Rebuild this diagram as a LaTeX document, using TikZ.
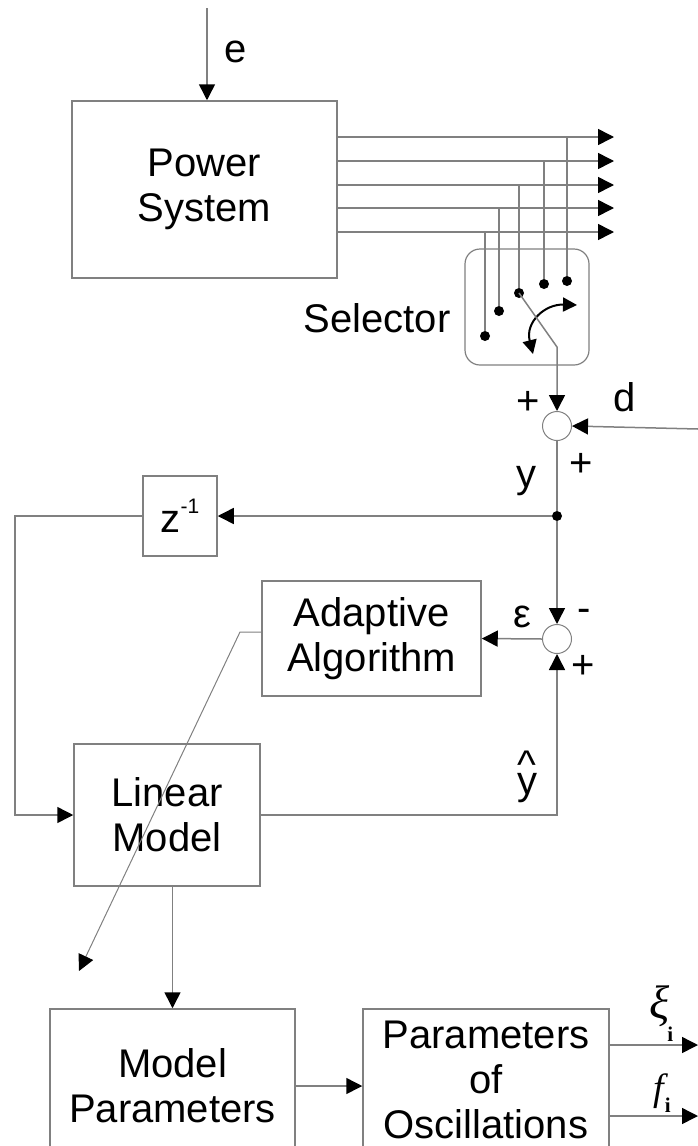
\RequirePackage{fix-cm}
\documentclass[tikz,border=0pt]{standalone}
\usepackage{fontspec}
\setmainfont{Liberation Sans}
\newfontfamily\timesfont{Liberation Serif}
\usetikzlibrary{arrows.meta,calc}
\definecolor{wiregray}{gray}{0.5}
\tikzset{
  wire/.style={draw=wiregray, line width=1.5pt},
  flow/.style={wire, -{Triangle[length=16pt,width=16pt,color=black]}},
  block/.style={draw=wiregray, line width=1.5pt, align=center, inner sep=0pt,
    font=\fontsize{40}{45}\selectfont},
  lbl/.style={inner sep=0pt, font=\fontsize{40}{45}\selectfont},
  sumnode/.style={circle, draw=wiregray, line width=1pt, fill=white,
    minimum size=29pt, inner sep=0pt},
  tapdot/.style={circle, fill=black, minimum size=10pt, inner sep=0pt},
  swarc/.style={draw=black, line width=2pt,
    {Triangle[length=14pt,width=14pt]}-{Triangle[length=14pt,width=14pt]}},
}
\begin{document}
\begin{tikzpicture}[x=1pt,y=-1pt]
\useasboundingbox (0,0) rectangle (698,1146);
\clip (0,0) rectangle (698,1146);

% plant with disturbance input e
\node[block, minimum width=265pt, minimum height=177pt] (ps) at (204.5,189.5) {Power\\System};
\coordinate (ein) at (207,8);
\draw[flow] (ein) -- (ein |- ps.north);
\node[lbl] (elbl) at (236,52) {e};

% measured outputs
\foreach \yy [count=\k] in {137,161,185,208,232} {
  \coordinate (o\k) at (ps.east |- 0,\yy);
  \coordinate (t\k) at (614,\yy);
  \draw[flow] (o\k) -- (t\k);
}

% selector switch
\node[draw=wiregray, line width=1.2pt, rounded corners=15pt, minimum width=124pt,
  minimum height=116pt, inner sep=0pt] (sel) at (527,307) {};
\node[lbl, anchor=base] (sellbl) at (377,332) {Selector};
\foreach \xx/\dy/\k in {567/281/1, 544/284/2, 519/293/3, 499/311/4, 485/336/5} {
  \node[tapdot] (c\k) at (\xx,\dy) {};
  \draw[wire] (c\k |- o\k) -- (c\k);
}
\coordinate (pivot) at (557,347);
\coordinate (arcA) at (533,354);
\coordinate (arcB) at (577,305);
\draw[swarc] (arcA) .. controls (525,322) and (545,304) .. (arcB);

% first summing point: measurement noise d
\node[sumnode] (s1) at (557,426) {};
\draw[flow] (c3.center) -- (pivot) -- (s1.north);
\coordinate (din) at (698,429);
\draw[flow] (din) -- (s1.east);
\node[lbl] (p1) at (528,403) {+};
\node[lbl] (dlbl) at (625,397) {d};
\node[lbl] (p2) at (581,465) {+};
\node[lbl] (ylbl) at (526,481) {y};

% branch point and unit delay
\node[tapdot] (jy) at (557,516) {};
\draw[wire] (s1.south) -- (jy);
\node[block, minimum width=74pt, minimum height=80pt] (zd) at (180,516)
  {z{\fontsize{21}{21}\selectfont\raisebox{19pt}{-1}}};
\draw[flow] (jy) -- (zd.east);

% second summing point: prediction error
\node[sumnode] (s2) at (557,639) {};
\draw[flow] (jy) -- (s2.north);
\node[lbl] (eps) at (522,617) {ε};
\node[lbl] (m1) at (584,615) {-};
\node[lbl] (p3) at (583,667) {+};

% adaptive algorithm
\node[block, minimum width=219pt, minimum height=115pt] (ad) at (371.5,638.5) {Adaptive\\Algorithm};
\draw[flow] (s2.west) -- (ad.east);

% linear model
\node[block, minimum width=186pt, minimum height=142pt] (lm) at (167,815) {Linear\\Model};
\coordinate (fbk) at (15,516);
\draw[flow] (zd.west) -- (fbk) |- (lm.west);
\draw[flow] (lm.east) -| (s2.south);
\node[lbl] (yhat) at (527,777) {\makebox[0pt][l]{\raisebox{16pt}{\^{}}}y};

% parameter update arrow crossing the model
\coordinate (adk) at (240,632);
\coordinate (adtip) at (79,971);
\draw[flow, line width=1pt] ($(ad.west)+(0,-6.5)$) -- (adk) -- (adtip);

% parameter blocks
\node[block, minimum width=245pt, minimum height=154pt] (mp) at (172.5,1086) {Model\\Parameters};
\draw[flow] (mp.north |- lm.south) -- (mp.north);
\node[block, minimum width=246pt, minimum height=142pt] (po) at (486,1080) {Parameters\\of\\Oscillations};
\draw[flow] (mp.east) -- (mp.east -| po.west);

\coordinate (xiout) at (698,1045);
\coordinate (fout) at (698,1116);
\draw[flow] (po.east |- xiout) -- (xiout);
\draw[flow] (po.east |- fout) -- (fout);
\node[inner sep=0pt, anchor=base west] (xil) at (649,1018)
  {{\timesfont\fontsize{47}{47}\selectfont\itshape ξ}\kern-2pt\raisebox{-23pt}{\timesfont\bfseries\fontsize{21}{21}\selectfont i}};
\node[inner sep=0pt, anchor=base west] (fil) at (653,1100)
  {{\timesfont\fontsize{38}{38}\selectfont\itshape f}\kern1pt\raisebox{-12pt}{\timesfont\bfseries\fontsize{21}{21}\selectfont i}};
\end{tikzpicture}
\end{document}
